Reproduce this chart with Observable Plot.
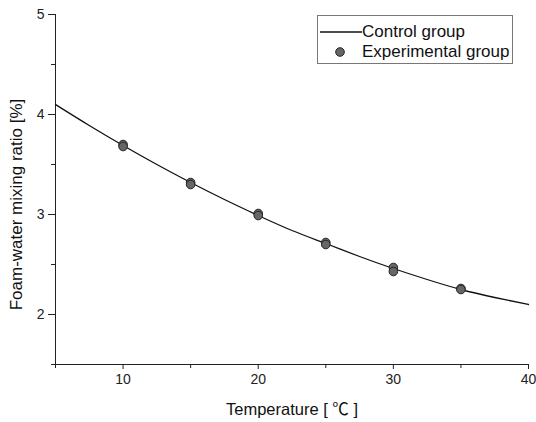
<!DOCTYPE html>
<html>
<head>
<meta charset="utf-8">
<script src="https://cdn.jsdelivr.net/npm/d3@7"></script>
<script src="https://cdn.jsdelivr.net/npm/@observablehq/plot@0.6"></script>
<style>
  html, body { margin: 0; padding: 0; background: #fff; }
  #wrap { position: relative; width: 536px; height: 422px; font-family: "Liberation Sans", Arial, sans-serif; }
  #legend { position: absolute; left: 317px; top: 15px; width: 196px; height: 49px; border: 1px solid #777; background: #fff; box-sizing: border-box; font-size: 17px; color: #111; }
  .row { position: absolute; left: 0; height: 20px; display: flex; align-items: center; }
  .sym { width: 44px; display: flex; justify-content: center; align-items: center; }
</style>
</head>
<body>
<div id="wrap"></div>
<script>
// Control group curve
const controlTemp = [5, 7.5, 10, 12.5, 15, 17.5, 20, 22.5, 25, 27.5, 30, 32.5, 35, 37.5, 40];
const controlRatio = [4.10, 3.89, 3.69, 3.50, 3.32, 3.15, 2.99, 2.84, 2.71, 2.58, 2.46, 2.35, 2.25, 2.17, 2.10];

// Experimental group points
const expTemp = [10, 10, 15, 15, 20, 20, 25, 25, 30, 30, 35, 35];
const expRatio = [3.70, 3.68, 3.32, 3.30, 3.01, 2.99, 2.72, 2.70, 2.47, 2.43, 2.26, 2.25];

const xTicks = [10, 20, 30, 40];
const xMinor = [5, 15, 25, 35];
const yTicks = [2, 3, 4, 5];
const yMinor = [1.5, 2.5, 3.5, 4.5];

const control = controlTemp.map((t, i) => ({t, r: controlRatio[i]}));
const exp = expTemp.map((t, i) => ({t, r: expRatio[i]}));

const chart = Plot.plot({
  width: 536,
  height: 422,
  marginLeft: 55,
  marginRight: 8,
  marginTop: 14,
  marginBottom: 58,
  style: {fontFamily: "Liberation Sans, Arial, 'Noto Sans CJK KR', sans-serif", fontSize: "14px", color: "#222", background: "#fff"},
  x: {domain: [5, 40]},
  y: {domain: [1.5, 5]},
  marks: [
    Plot.ruleX([5], {stroke: "#222", strokeWidth: 1}),
    Plot.ruleY([1.5], {stroke: "#222", strokeWidth: 1}),
    Plot.axisX({ticks: xTicks, tickSize: 5, tickPadding: 5, tickFormat: d => String(d), stroke: "#222", fill: "#222", fontSize: 14, label: null}),
    Plot.axisX({ticks: xMinor, tickSize: 4, tickFormat: () => "", stroke: "#222", label: null}),
    Plot.axisY({ticks: yTicks, tickSize: 7, tickPadding: 4, tickFormat: d => String(d), stroke: "#222", fill: "#222", fontSize: 14, label: null}),
    Plot.axisY({ticks: yMinor, tickSize: 4, tickFormat: () => "", stroke: "#222", label: null}),
    Plot.line(control, {x: "t", y: "r", curve: "natural", stroke: "#111", strokeWidth: 1.3}),
    Plot.dot(exp, {x: "t", y: "r", r: 4.3, fill: "#666", stroke: "#222", strokeWidth: 1}),
    Plot.text(["Temperature [ ℃ ]"], {frameAnchor: "bottom", dy: 50, fontSize: 16.5, fill: "#111"}),
    Plot.text(["Foam-water mixing ratio [%]"], {frameAnchor: "left", textAnchor: "middle", dx: -39, dy: 15, rotate: -90, fontSize: 17, fill: "#111"})
  ]
});

const wrap = document.getElementById("wrap");
wrap.appendChild(chart);

const legend = document.createElement("div");
legend.id = "legend";
legend.innerHTML = `
  <div class="row" style="top:6px"><div class="sym"><svg width="43" height="4"><line x1="1" y1="2" x2="43" y2="2" stroke="#111" stroke-width="1.3"/></svg></div><span>Control group</span></div>
  <div class="row" style="top:26px"><div class="sym"><svg width="12" height="12"><circle cx="6" cy="6" r="4.3" fill="#666" stroke="#222"/></svg></div><span>Experimental group</span></div>`;
wrap.appendChild(legend);
</script>
</body>
</html>
